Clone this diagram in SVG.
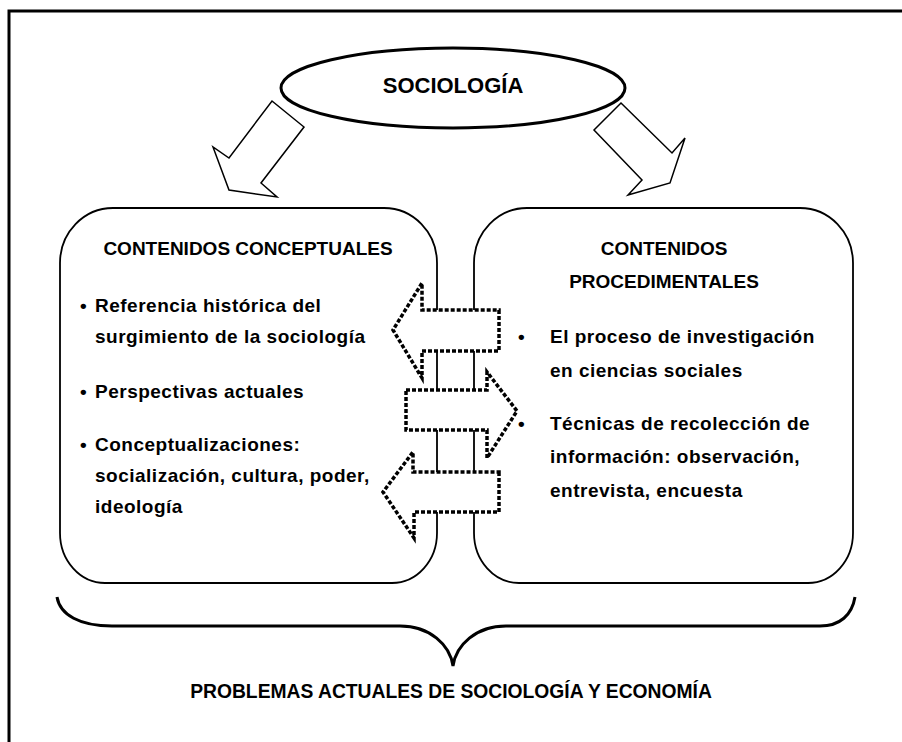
<svg xmlns="http://www.w3.org/2000/svg" width="902" height="742" viewBox="0 0 902 742">
<defs>
<style>
.t{font-family:"Liberation Sans",Arial,sans-serif;fill:#000}
.b{font-weight:bold}
.h{font-size:19px;font-weight:bold}
.body{font-size:19px;font-weight:bold;letter-spacing:0.5px}
.box{fill:#fff;stroke:#000;stroke-width:1.8}
.blk{fill:#fff;stroke:#000;stroke-width:1.5;stroke-linejoin:miter}
.dash{fill:#fff;stroke:#000;stroke-width:3.5;stroke-dasharray:4 2;stroke-linejoin:miter}
</style>
</defs>
<rect x="0" y="0" width="902" height="742" fill="#fff"/>
<path d="M9 745 V11 H905" fill="none" stroke="#000" stroke-width="3"/>

<g id="sociologia">
<ellipse cx="453" cy="88" rx="172" ry="40" fill="#fff" stroke="#000" stroke-width="3"/>
<text class="t b" x="453" y="93" font-size="22" text-anchor="middle">SOCIOLOGÍA</text>
</g>

<g id="connectors">
<polygon class="blk" points="272,101 304,127 261,183 277,197 229,190 213,147 229,158"/>
<polygon class="blk" points="621,103 672,153 685,138 670,183 628,195 642,180 594,130"/>
<path d="M57 597 C60 615 80 626 112 626 L400 626 C430 626 450 645 453 666 C456 645 476 626 506 626 L820 626 C840 626 852 615 855 597" fill="none" stroke="#000" stroke-width="3"/>
</g>

<g id="conceptuales">
<path class="box" d="M113 208 H384 A53 55 0 0 1 437 263 V533 A45 50 0 0 1 392 583 H105 A45 50 0 0 1 60 533 V263 A53 55 0 0 1 113 208 Z"/>
<text class="t h" x="248" y="255" text-anchor="middle">CONTENIDOS CONCEPTUALES</text>
<text class="t body" x="80" y="312">•</text>
<text class="t body" x="95" y="312">Referencia histórica del</text>
<text class="t body" x="95" y="343">surgimiento de la sociología</text>
<text class="t body" x="80" y="398">•</text>
<text class="t body" x="95" y="398">Perspectivas actuales</text>
<text class="t body" x="80" y="451">•</text>
<text class="t body" x="95" y="451">Conceptualizaciones:</text>
<text class="t body" x="95" y="482">socialización, cultura, poder,</text>
<text class="t body" x="95" y="513">ideología</text>
</g>

<g id="procedimentales">
<path class="box" d="M527 208 H800 A53 55 0 0 1 853 263 V533 A45 50 0 0 1 808 583 H519 A45 50 0 0 1 474 533 V263 A53 55 0 0 1 527 208 Z"/>
<text class="t h" x="664" y="255" text-anchor="middle">CONTENIDOS</text>
<text class="t h" x="664" y="288" text-anchor="middle">PROCEDIMENTALES</text>
<text class="t body" x="518" y="343">•</text>
<text class="t body" x="550" y="343">El proceso de investigación</text>
<text class="t body" x="550" y="377">en ciencias sociales</text>
<text class="t body" x="518" y="430">•</text>
<text class="t body" x="550" y="430">Técnicas de recolección de</text>
<text class="t body" x="550" y="463">información: observación,</text>
<text class="t body" x="550" y="497">entrevista, encuesta</text>
</g>

<g id="exchange-arrows">
<polygon class="dash" points="499,310 499,351 422,351 422,378 393,330 422,283 422,310"/>
<polygon class="dash" points="406,390 487,390 487,372 517,411 487,458 487,430 406,430"/>
<polygon class="dash" points="499,472 499,512 414,512 414,538 383,492 413,452 413,472"/>
</g>

<g id="problemas">
<text class="t b" x="451" y="698" font-size="19.3" text-anchor="middle">PROBLEMAS ACTUALES DE SOCIOLOGÍA Y ECONOMÍA</text>
</g>
</svg>
